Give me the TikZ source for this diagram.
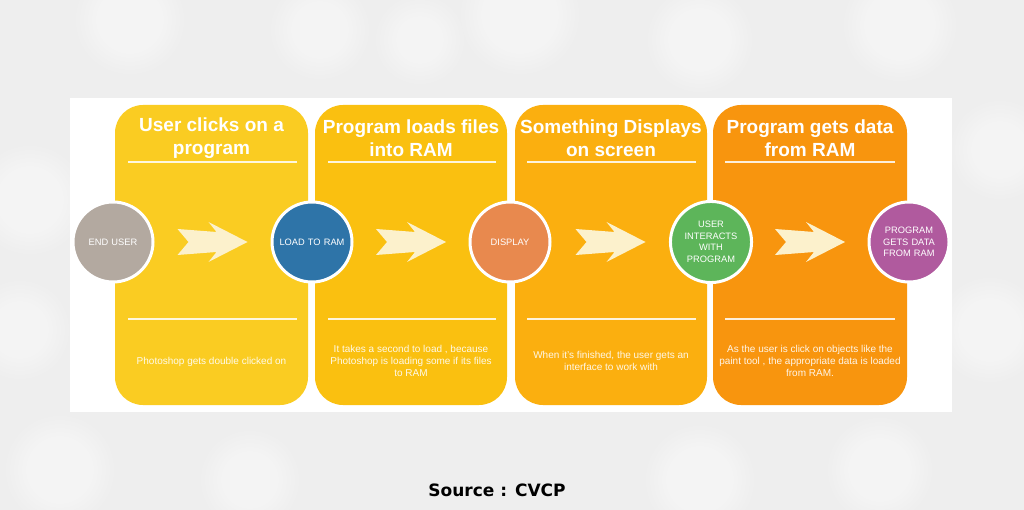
\documentclass[tikz,border=0pt]{standalone}
\usepackage{fontspec}
\setmainfont{Liberation Sans}
\newfontfamily\srcfont{DejaVu Sans}
\usetikzlibrary{calc}
\definecolor{bgc}{HTML}{EEEEEE}
\definecolor{pa}{HTML}{FACC22}
\definecolor{pb}{HTML}{FAC010}
\definecolor{pc}{HTML}{FBAF0F}
\definecolor{pd}{HTML}{F8950E}
\definecolor{cgray}{HTML}{B3A9A0}
\definecolor{cblue}{HTML}{2E74A8}
\definecolor{corange}{HTML}{E8894E}
\definecolor{cgreen}{HTML}{5DB55A}
\definecolor{cpurple}{HTML}{B05A9E}
\definecolor{arrowc}{HTML}{FCF1CC}
\tikzset{
  panel/.style={rounded corners=28pt},
  head/.style={text=white, align=center, font=\bfseries\fontsize{19}{23}\selectfont},
  sepline/.style={draw=white, line width=1.3pt, opacity=0.85},
  circ/.style={circle, minimum size=80pt, inner sep=0pt, draw=white, line width=3pt,
    text=white, align=center, text width=70pt, font=\fontsize{9.3}{11.5}\selectfont},
  desc/.style={text=white, text opacity=0.9, align=center, font=\fontsize{10}{12}\selectfont},
  chev/.style={fill=arrowc}
}
\begin{document}
\begin{tikzpicture}[x=1pt,y=-1pt]
\useasboundingbox (0,0) rectangle (1024,510);
% background
\fill[bgc] (0,0) rectangle (1024,510);
\foreach \x/\y/\r in {130/20/40, 320/30/35, 520/15/45, 700/40/38, 900/25/42, 1000/150/35, 30/200/40, 20/330/35, 990/330/38, 60/470/40, 250/480/35, 700/480/40, 880/470/38, 420/40/30} {
  \foreach \k in {14,10,6,2,-2,-6,-10,-14}
    \fill[white, opacity=0.09] (\x,\y) circle (\r+\k);
}
% white panel
\fill[white] (70,98) rectangle (952,412);
% step panels
\fill[pa, panel] (115,105) rectangle (308,405);
\fill[pb, panel] (315,105) rectangle (507,405);
\fill[pc, panel] (515,105) rectangle (707,405);
\fill[pd, panel] (713,105) rectangle (907,405);
% headings
\node[head] (h1) at (211.5,138) {User clicks on a\\program};
\node[head] (h2) at (411,138) {Program loads files\\into RAM};
\node[head] (h3) at (611,138) {Something Displays\\on screen};
\node[head] (h4) at (810,138) {Program gets data\\from RAM};
% separator lines
\foreach \a/\b in {128/297, 328/496, 527/696, 725/895} {
  \draw[sepline] (\a,162) -- (\b,162);
  \draw[sepline] (\a,319) -- (\b,319);
}
% descriptions
\node[desc] (d1) at (211.5,362) {Photoshop gets double clicked on};
\node[desc] (d2) at (411,361) {It takes a second to load , because\\Photoshop is loading some if its files\\to RAM};
\node[desc] (d3) at (611,361) {When it's finished, the user gets an\\interface to work with};
\node[desc] (d4) at (810,361) {As the user is click on objects like the\\paint tool , the appropriate data is loaded\\from RAM.};
% circles
\node[circ, fill=cgray] (c1) at (113,242) {END USER};
\node[circ, fill=cblue] (c2) at (312,242) {LOAD TO RAM};
\node[circ, fill=corange] (c3) at (510,242) {DISPLAY};
\node[circ, fill=cgreen] (c4) at (711,242) {USER\\INTERACTS\\WITH\\PROGRAM};
\node[circ, fill=cpurple] (c5) at (909,242) {PROGRAM\\GETS DATA\\FROM RAM};
% chevron arrows between circles
\foreach \p/\q/\i in {c1/c2/1, c2/c3/2, c3/c4/3, c4/c5/4} {
  \coordinate (m\i) at ($(\p)!0.5!(\q)$);
  \begin{scope}[shift={(m\i)}]
    \fill[chev] (-35,-13) -- (4,-10) -- (-4,-20) -- (35,0) -- (-4,20) -- (4,10) -- (-35,13) -- (-24,0) -- cycle;
  \end{scope}
}
% source
\node[font=\srcfont\bfseries\fontsize{17}{20}\selectfont, text=black] (src) at (497,490) {Source : CVCP};
\end{tikzpicture}
\end{document}
